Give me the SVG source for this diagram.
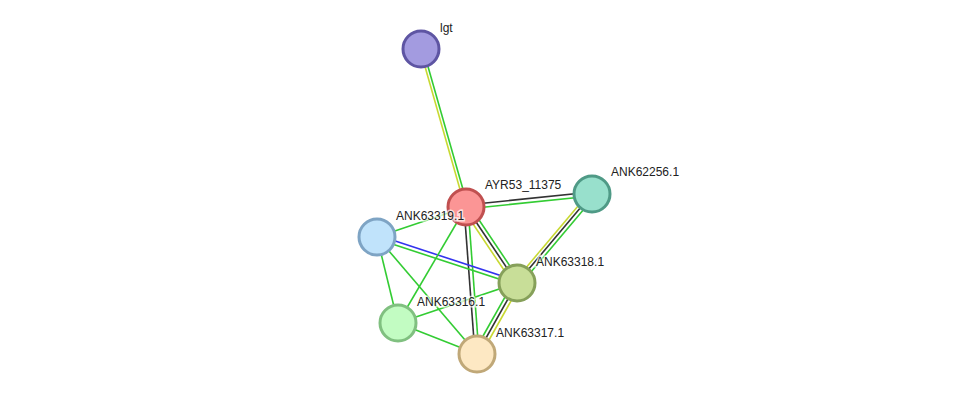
<svg xmlns="http://www.w3.org/2000/svg" width="975" height="400" viewBox="0 0 975 400">
<style>
.e{stroke-width:1.6;fill:none}
.g{stroke:#33cc33}.y{stroke:#c8d932}.k{stroke:#333}.b{stroke:#3333ee}
.n{stroke-width:3}
text{font-family:"Liberation Sans",Arial,sans-serif;font-size:12px;fill:#222;paint-order:stroke;stroke:#fff;stroke-width:3px;stroke-opacity:.7}
</style>
<rect width="975" height="400" fill="#fff"/>
<g id="connectors">
<line class="e y" x1="420" y1="49" x2="465" y2="207"/><line class="e g" x1="423" y1="49" x2="468" y2="207"/>
<line class="e k" x1="466" y1="205" x2="592" y2="192"/><line class="e g" x1="466" y1="209" x2="592" y2="196"/>
<line class="e y" x1="514" y1="282" x2="589" y2="193"/><line class="e k" x1="517" y1="283" x2="592" y2="194"/><line class="e g" x1="520" y1="285" x2="595" y2="196"/>
<line class="e y" x1="463" y1="209" x2="514" y2="285"/><line class="e k" x1="466" y1="207" x2="517" y2="283"/><line class="e g" x1="469" y1="205" x2="520" y2="281"/>
<line class="e k" x1="464" y1="207" x2="475" y2="354"/><line class="e g" x1="468" y1="207" x2="479" y2="354"/>
<line class="e g" x1="474" y1="352" x2="514" y2="281"/><line class="e k" x1="477" y1="354" x2="517" y2="283"/><line class="e y" x1="480" y1="356" x2="520" y2="285"/>
<line class="e g" x1="377" y1="237" x2="466" y2="207"/>
<line class="e b" x1="377" y1="235" x2="517" y2="281"/><line class="e g" x1="377" y1="239" x2="517" y2="285"/>
<line class="e g" x1="377" y1="237" x2="398" y2="323"/>
<line class="e g" x1="377" y1="237" x2="477" y2="354"/>
<line class="e g" x1="398" y1="323" x2="466" y2="207"/>
<line class="e g" x1="398" y1="323" x2="517" y2="283"/>
<line class="e g" x1="398" y1="323" x2="477" y2="354"/>
</g>
<g id="lgt"><circle class="n" cx="421" cy="49" r="18" fill="#a39be0" stroke="#5e55a3"/><text x="440" y="32">lgt</text></g>
<g id="AYR53_11375"><circle class="n" cx="466" cy="207" r="18" fill="#fb9595" stroke="#c05050"/><text x="485" y="189">AYR53_11375</text></g>
<g id="ANK62256.1"><circle class="n" cx="592" cy="194" r="18" fill="#98e0cc" stroke="#4f9a86"/><text x="611" y="176">ANK62256.1</text></g>
<g id="ANK63319.1"><circle class="n" cx="377" cy="237" r="18" fill="#c0e3fb" stroke="#7ea4c4"/><text x="396" y="220">ANK63319.1</text></g>
<g id="ANK63318.1"><circle class="n" cx="517" cy="283" r="18" fill="#c8de98" stroke="#86a05a"/><text x="536" y="266">ANK63318.1</text></g>
<g id="ANK63316.1"><circle class="n" cx="398" cy="323" r="18" fill="#c2fcc2" stroke="#80c080"/><text x="417" y="306">ANK63316.1</text></g>
<g id="ANK63317.1"><circle class="n" cx="477" cy="354" r="18" fill="#fde8c3" stroke="#c0a878"/><text x="496" y="337">ANK63317.1</text></g>
</svg>
